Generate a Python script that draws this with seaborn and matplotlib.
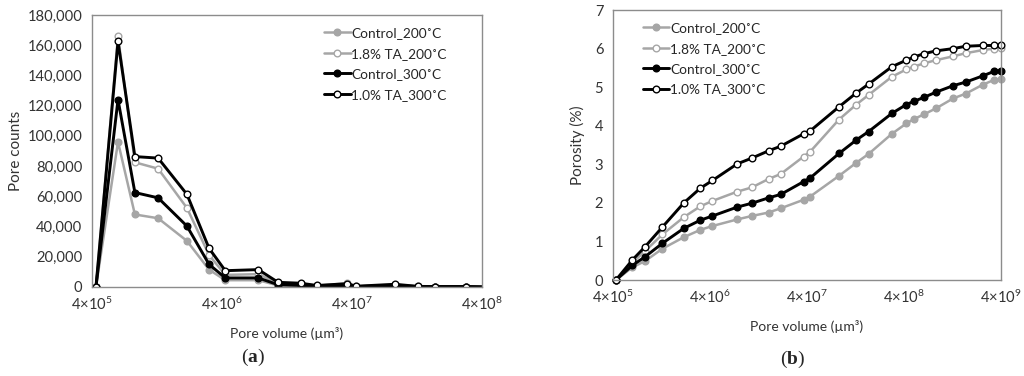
import matplotlib
matplotlib.use("Agg")
import matplotlib.pyplot as plt
import matplotlib.ticker as mticker
import numpy as np
import pandas as pd
import seaborn as sns

# pore volume bins (um^3), shared by both panels
pore_volume = [4.29e5, 6.34e5, 8.55e5, 1.29e6, 2.15e6, 3.18e6, 4.24e6, 7.62e6,
               1.08e7, 1.61e7, 2.15e7, 3.69e7, 4.29e7, 8.55e7, 1.29e8, 1.73e8,
               3.0e8, 4.24e8, 5.04e8, 6.49e8, 8.55e8, 1.29e9, 1.73e9, 2.58e9,
               3.4e9, 4.0e9]

series_names = ["Control_200\u02daC", "1.8% TA_200\u02daC", "Control_300\u02daC", "1.0% TA_300\u02daC"]

# (a) pore counts, first 18 bins
counts_control_200 = [0, 96000, 48000, 45500, 30500, 11500, 4500, 4500, 1000, 800,
                      300, 800, 200, 500, 200, 100, 100, 0]
counts_ta18_200 = [0, 166000, 82500, 78300, 52300, 21200, 8000, 8500, 2500, 2000,
                   800, 2500, 400, 1500, 400, 300, 300, 0]
counts_control_300 = [0, 124000, 62500, 59000, 40300, 15000, 6000, 6000, 1500, 1000,
                      500, 1000, 300, 800, 300, 200, 200, 0]
counts_ta10_300 = [0, 162500, 86300, 85300, 61300, 25600, 10800, 11500, 3100, 2500,
                   1000, 2200, 500, 1800, 400, 300, 300, 0]

# (b) cumulative porosity (%)
por_control_200 = [0, 0.33, 0.49, 0.81, 1.11, 1.3, 1.4, 1.57, 1.66, 1.75, 1.86, 2.08,
                   2.16, 2.7, 3.04, 3.27, 3.79, 4.06, 4.17, 4.3, 4.45, 4.71, 4.83,
                   5.06, 5.19, 5.22]
por_ta18_200 = [0, 0.45, 0.75, 1.18, 1.63, 1.91, 2.05, 2.29, 2.4, 2.62, 2.75, 3.2,
                3.32, 4.16, 4.55, 4.8, 5.27, 5.46, 5.53, 5.62, 5.7, 5.8, 5.88, 5.96,
                6.0, 6.02]
por_control_300 = [0, 0.38, 0.6, 0.95, 1.34, 1.55, 1.66, 1.89, 1.99, 2.13, 2.22, 2.55,
                   2.64, 3.28, 3.63, 3.85, 4.32, 4.55, 4.63, 4.74, 4.87, 5.04, 5.13,
                   5.29, 5.41, 5.42]
por_ta10_300 = [0, 0.52, 0.86, 1.37, 2.0, 2.38, 2.58, 3.01, 3.16, 3.35, 3.47, 3.79,
                3.86, 4.49, 4.85, 5.08, 5.53, 5.7, 5.78, 5.87, 5.94, 6.0, 6.06, 6.08,
                6.08, 6.09]

sns.set_style("white")
plt.rcParams["font.family"] = ["Lato", "DejaVu Sans"]
plt.rcParams["mathtext.fontset"] = "custom"
plt.rcParams["mathtext.rm"] = "Lato"
plt.rcParams["mathtext.it"] = "Lato:italic"
plt.rcParams["mathtext.bf"] = "Liberation Serif:bold"

GREY = "#a6a6a6"
TXT = "#333333"
styles = [
    dict(color=GREY, mfc=GREY, mec=GREY, lw=1.8),
    dict(color=GREY, mfc="white", mec=GREY, lw=1.8),
    dict(color="black", mfc="black", mec="black", lw=2.1),
    dict(color="black", mfc="white", mec="black", lw=2.1),
]

fig = plt.figure(figsize=(10.24, 3.76), dpi=100)
ax1 = fig.add_axes([92 / 1024, 89 / 376, 390 / 1024, 272 / 376])
ax2 = fig.add_axes([613 / 1024, 96 / 376, 388 / 1024, 270 / 376])


def draw(ax, ys, n):
    for name, y, st in zip(series_names, ys, styles):
        df = pd.DataFrame({"v": pore_volume[:n], "y": y})
        sns.lineplot(data=df, x="v", y="y", ax=ax, label=name, color=st["color"],
                     lw=st["lw"], marker="o", markersize=4.8, markerfacecolor=st["mfc"],
                     markeredgecolor=st["mec"], markeredgewidth=1.0, clip_on=False)
    ax.set_xscale("log")
    for sp in ax.spines.values():
        sp.set_color("#8c8c8c")
        sp.set_linewidth(1.0)
    ax.tick_params(axis="both", direction="out", length=4, width=0.9, color="#8c8c8c",
                   labelsize=10.6, labelcolor=TXT, pad=3)
    ax.tick_params(axis="x", pad=2)
    ax.xaxis.set_minor_locator(mticker.NullLocator())
    ax.set_xlabel("Pore volume (\u00b5m\u00b3)", fontsize=10, color=TXT, labelpad=10)


def sci_labels(powers):
    return [f"4\u00d710$^{{{p}}}$" for p in powers]


draw(ax1, [counts_control_200, counts_ta18_200, counts_control_300, counts_ta10_300], 18)
ax1.set_xlim(4e5, 4e8)
ax1.set_ylim(0, 180000)
ax1.set_yticks(range(0, 180001, 20000))
ax1.yaxis.set_major_formatter(mticker.FuncFormatter(lambda v, p: f"{int(v):,}"))
ax1.set_xticks([4e5, 4e6, 4e7, 4e8])
ax1.set_xticklabels(sci_labels([5, 6, 7, 8]))
ax1.set_ylabel("Pore counts", fontsize=11, color=TXT, labelpad=3)
for l in ax1.lines:
    l.set_clip_on(True)
ax1.legend(loc="upper left", bbox_to_anchor=(0.595, 0.955), frameon=False, fontsize=9.8,
           handlelength=1.95, handletextpad=0.05, labelspacing=0.62, borderaxespad=0,
           borderpad=0)

draw(ax2, [por_control_200, por_ta18_200, por_control_300, por_ta10_300], 26)
ax2.set_xlim(4e5, 4e9)
ax2.set_ylim(0, 7)
ax2.set_yticks(range(0, 8))
ax2.set_xticks([4e5, 4e6, 4e7, 4e8, 4e9])
ax2.set_xticklabels(sci_labels([5, 6, 7, 8, 9]))
ax2.set_ylabel("Porosity (%)", fontsize=11, color=TXT, labelpad=7)
ax2.legend(loc="upper left", bbox_to_anchor=(0.077, 0.955), frameon=False, fontsize=9.8,
           handlelength=1.95, handletextpad=0.05, labelspacing=0.62, borderaxespad=0,
           borderpad=0)

fig.text(253 / 1024, 1 - 357 / 376, r"($\mathbf{a}$)", ha="center", va="center",
         fontsize=14, family="Liberation Serif")
fig.text(793 / 1024, 1 - 359 / 376, r"($\mathbf{b}$)", ha="center", va="center",
         fontsize=14, family="Liberation Serif")

fig.savefig("out.png", dpi=100)
